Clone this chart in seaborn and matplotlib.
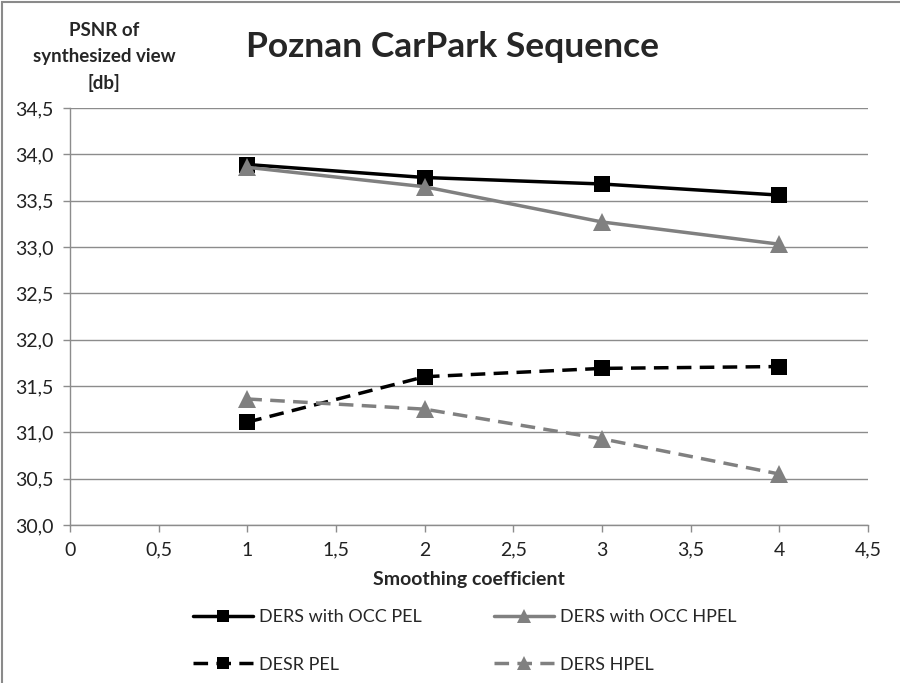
import pandas as pd
import matplotlib
matplotlib.use("Agg")
import matplotlib.pyplot as plt
import matplotlib.patches as patches
from matplotlib.ticker import FuncFormatter, MultipleLocator
import seaborn as sns

# data
coef = [1, 2, 3, 4]
ders_occ_pel = [33.89, 33.75, 33.68, 33.56]
ders_occ_hpel = [33.86, 33.65, 33.27, 33.03]
desr_pel = [31.11, 31.60, 31.69, 31.71]
ders_hpel = [31.36, 31.25, 30.93, 30.55]

series_names = ["DERS with OCC PEL", "DERS with OCC HPEL", "DESR PEL", "DERS HPEL"]
series_values = [ders_occ_pel, ders_occ_hpel, desr_pel, ders_hpel]

sns.set_theme(style="white")
plt.rcParams['font.family'] = ['Lato', 'DejaVu Sans']

fig = plt.figure(figsize=(9, 6.83), dpi=100)
ax = fig.add_axes([70 / 900, 1 - 525 / 683, 798 / 900, 417 / 683])

dash = (0, (4.2, 2.4))
styles = [
    dict(color="black", marker="s", ls="-", ms=11.5),
    dict(color="#808080", marker="^", ls="-", ms=12.5),
    dict(color="black", marker="s", ls=dash, ms=11.5),
    dict(color="#808080", marker="^", ls=dash, ms=12.5),
]

for name, vals, st in zip(series_names, series_values, styles):
    df = pd.DataFrame({"x": coef, "y": vals})
    sns.lineplot(data=df, x="x", y="y", ax=ax, label=name, color=st["color"],
                 marker=st["marker"], linestyle=st["ls"], markersize=st["ms"],
                 linewidth=2.5, markeredgewidth=0, markeredgecolor=st["color"])

ax.set_xlim(0, 4.5)
ax.set_ylim(30, 34.5)
ax.xaxis.set_major_locator(MultipleLocator(0.5))
ax.yaxis.set_major_locator(MultipleLocator(0.5))
ax.xaxis.set_major_formatter(FuncFormatter(lambda v, p: ("%g" % v).replace(".", ",")))
ax.yaxis.set_major_formatter(FuncFormatter(lambda v, p: ("%.1f" % v).replace(".", ",")))

grid_col = "#8c8c8c"
ax.grid(axis="y", color=grid_col, lw=1)
ax.grid(axis="x", visible=False)
for s in ["top", "right"]:
    ax.spines[s].set_visible(False)
for s in ["left", "bottom"]:
    ax.spines[s].set_color(grid_col)
    ax.spines[s].set_linewidth(1)
ax.tick_params(axis="both", direction="out", length=5, width=1, color=grid_col,
               labelsize=14, labelcolor="#222222")
ax.tick_params(axis="y", pad=7, left=True)
ax.tick_params(axis="x", pad=7, bottom=True)

ax.set_xlabel("Smoothing coefficient", fontsize=14, fontweight="bold", labelpad=9)
ax.set_ylabel("")

fig.text(104 / 900, 1 - 57 / 683, "PSNR of\nsynthesized view\n[db]", ha="center", va="center",
         fontsize=13.5, fontweight="bold", linespacing=1.65)
fig.text(453 / 900, 1 - 47 / 683, "Poznan CarPark Sequence", ha="center", va="center",
         fontsize=25.5, fontweight="bold")

# legend fills column by column, so reorder to get rows like the original
handles, labels = ax.get_legend_handles_labels()
order = [0, 2, 1, 3]
leg = ax.legend([handles[i] for i in order], [labels[i] for i in order],
                loc="center left", bbox_to_anchor=(177 / 900, 1 - 641 / 683),
                bbox_transform=fig.transFigure, ncol=2, frameon=False, fontsize=13,
                handlelength=3.3, handletextpad=0.35, columnspacing=4.0, labelspacing=1.75,
                markerscale=0.75)

fig.patches.append(patches.Rectangle((2 / 900, -0.1), 1.2, 1 - 2 / 683 + 0.1,
                                     transform=fig.transFigure, fill=False,
                                     ec="#8a8a8a", lw=1.5))

fig.savefig("out.png", dpi=100)
